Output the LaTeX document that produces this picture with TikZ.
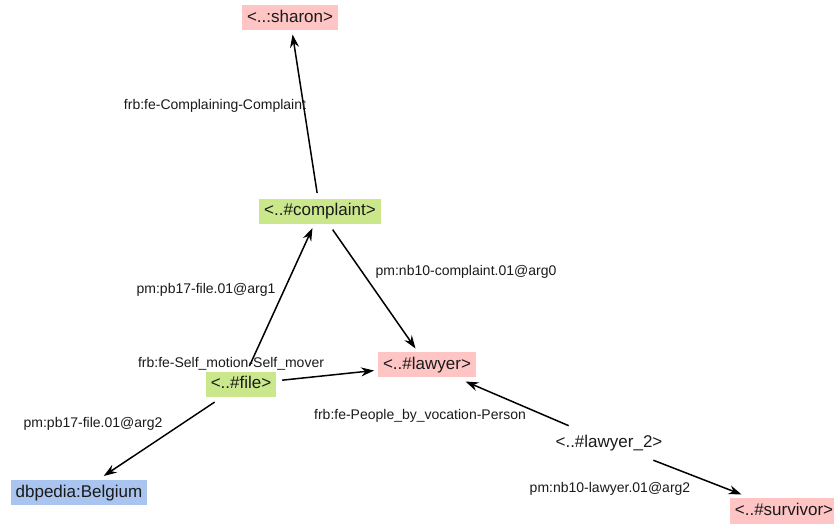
\documentclass[tikz,border=0pt]{standalone}
\usepackage{fontspec}
\setmainfont{Liberation Sans}
\usetikzlibrary{arrows.meta}
\definecolor{pinkbox}{HTML}{FFC4C4}
\definecolor{greenbox}{HTML}{CBE78C}
\definecolor{bluebox}{HTML}{A9C4EE}
\definecolor{txt}{HTML}{1A1A1A}
\tikzset{
  ent/.style={inner xsep=5pt, inner ysep=4.5pt, text height=12.5pt, text depth=3.5pt,
    font=\fontsize{17}{20}\selectfont, text=txt, outer sep=4pt},
  pinkent/.style={ent, fill=pinkbox},
  greenent/.style={ent, fill=greenbox},
  blueent/.style={ent, fill=bluebox},
  plainent/.style={ent},
  lbl/.style={font=\fontsize{14}{16}\selectfont, text=txt, inner sep=0pt},
  rel/.style={line width=1.5pt, -{Stealth[length=13pt,width=9pt]}, shorten <=2pt}
}
\begin{document}
\begin{tikzpicture}[x=1pt,y=1pt]
\useasboundingbox (0,0) rectangle (834,524);
\clip (0,0) rectangle (834,524);
% nodes (y = 524 - pixel y)
\node[pinkent]  (sharon)    at (290,506) {<..:sharon>};
\node[greenent] (complaint) at (320,312.5) {<..\#complaint>};
\node[pinkent]  (lawyer)    at (427,159) {<..\#lawyer>};
\node[greenent] (file)      at (241,139.5) {<..\#file>};
\node[blueent]  (belgium)   at (79,31.5) {dbpedia:Belgium};
\node[plainent] (lawyertwo) at (609,81) {<..\#lawyer\_2>};
\node[pinkent]  (survivor)  at (784,13) {<..\#survivor>};
% connectors
\draw[rel] (complaint) -- (sharon);
\draw[rel] (file) -- (complaint);
\draw[rel] (complaint) -- (lawyer);
\draw[rel] (file) -- (lawyer);
\draw[rel] (file) -- (belgium);
\draw[rel] (lawyertwo) -- (lawyer);
\draw[rel] (lawyertwo) -- (survivor);
% labels
\node[lbl] (l1) at (215,418) {frb:fe-Complaining-Complaint};
\node[lbl] (l2) at (206,234) {pm:pb17-file.01@arg1};
\node[lbl] (l3) at (466,252) {pm:nb10-complaint.01@arg0};
\node[lbl] (l4) at (231,160) {frb:fe-Self\_motion-Self\_mover};
\node[lbl] (l5) at (93,100) {pm:pb17-file.01@arg2};
\node[lbl] (l6) at (420,108) {frb:fe-People\_by\_vocation-Person};
\node[lbl] (l7) at (610,35) {pm:nb10-lawyer.01@arg2};
\end{tikzpicture}
\end{document}
